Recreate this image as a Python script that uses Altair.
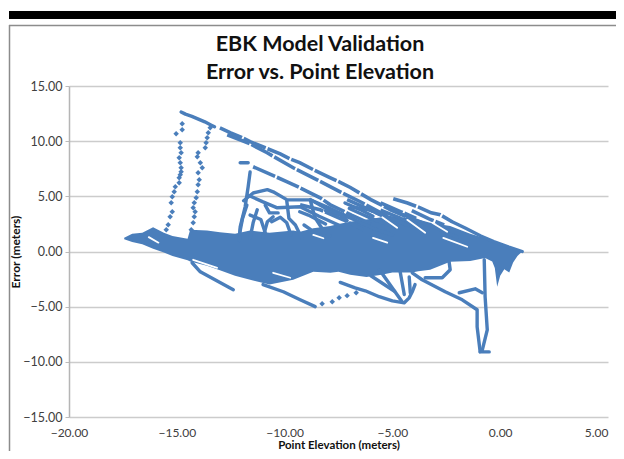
import altair as alt
import pandas as pd

BLUE = "#4a7ebb"

# dense body of the cloud, read as lower and upper edges
mass_x = [-17.44, -17.07, -16.6, -16.1, -15.6, -15.2, -14.5, -14.38, -13.6, -13.0, -12.3, -11.6, -10.7, -9.6, -9.28, -8.67, -7.88, -7.5, -6.96, -6.2, -5.5, -5.0, -4.5, -4.08, -3.8, -3.25, -2.32, -1.39, -0.7, -0.37, -0.25, -0.14, 0.0, 0.19, 0.42, 0.6, 0.8, 1.02]
mass_lo = [1.1, 0.85, 0.65, 0.25, -0.1, -0.4, -0.8, -0.9, -1.3, -1.7, -2.2, -2.56, -3.0, -2.56, -2.3, -1.84, -1.93, -1.84, -2.1, -2.3, -2.1, -1.9, -1.9, -1.9, -1.8, -1.66, -0.93, -0.85, -0.6, -0.9, -1.5, -3.2, -2.2, -1.6, -1.9, -1.0, -0.4, 0.0]
mass_hi = [1.25, 1.6, 1.7, 2.2, 1.7, 1.4, 1.15, 1.97, 1.9, 1.75, 1.6, 1.9, 1.7, 1.9, 1.8, 2.1, 2.3, 2.5, 2.7, 2.9, 3.1, 3.2, 3.1, 3.0, 2.9, 2.6, 2.3, 1.6, 1.2, 1.0, 0.9, 0.8, 0.7, 0.55, 0.4, 0.3, 0.2, 0.0]

# tracks that show as long broken rows
t2_x = [-13.0, -12.5, -12.0, -11.6, -10.9, -10.2, -9.75, -9.3, -8.6, -7.9, -7.4, -6.95, -6.0, -5.1, -4.3]
t2_y = [11.2, 10.75, 10.35, 9.95, 9.4, 8.85, 8.4, 8.05, 7.35, 6.7, 6.25, 5.8, 4.7, 3.8, 3.1]
t3_x = [-12.66, -11.6, -10.81, -9.6, -8.49, -7.42, -6.49, -5.1, -4.2]
t3_y = [10.58, 9.76, 8.95, 7.59, 6.5, 5.41, 4.51, 3.05, 2.3]
t4_x = [-11.46, -9.88, -9.28, -8.35, -7.88, -6.9, -6.0]
t4_y = [7.68, 6.32, 5.77, 4.87, 4.23, 3.3, 2.5]
t5_x = [-4.96, -4.3, -3.71, -3.2, -2.78, -2.23]
t5_y = [4.78, 4.4, 3.96, 3.5, 3.33, 2.7]
u1_x = [-5.55, -4.6, -3.9]
u1_y = [4.4, 3.6, 3.0]
u2_x = [-5.55, -4.6]
u2_y = [3.75, 3.0]
u3_x = [-4.1, -3.3, -2.6]
u3_y = [3.7, 2.95, 2.4]
m2_x = [-6.96, -6.03, -5.1]
m2_y = [4.05, 3.78, 2.88]
m3_x = [-9.28, -8.35, -7.28, -6.35]
m3_y = [4.23, 3.78, 2.88, 1.97]
m4_x = [-7.1, -6.35, -5.6]
m4_y = [4.7, 4.05, 3.4]
broken = {"t2": (t2_x, t2_y), "t3": (t3_x, t3_y), "t4": (t4_x, t4_y), "t5": (t5_x, t5_y),
          "u1": (u1_x, u1_y), "u2": (u2_x, u2_y), "u3": (u3_x, u3_y), "m2": (m2_x, m2_y),
          "m3": (m3_x, m3_y), "m4": (m4_x, m4_y)}

# tracks that show as solid strokes
t1_x = [-14.8, -14.6, -14.3, -14.0, -13.7, -13.4, -13.25]
t1_y = [12.65, 12.45, 12.25, 12.0, 11.75, 11.45, 11.3]
t6_x = [-5.1, -4.4, -3.6, -2.8, -2.0]
t6_y = [3.8, 3.25, 2.6, 2.0, 1.3]
t7_x = [-2.23, -1.6, -0.9, -0.3, 0.4, 1.02]
t7_y = [2.7, 2.1, 1.4, 0.9, 0.4, 0.0]
short_x = [-12.06, -11.69]
short_y = [8.04, 8.04]
col_x = [-11.6, -11.69, -11.83, -12.06, -12.1]
col_y = [7.2, 5.87, 4.05, 2.24, 1.0]
b1_x = [-11.9, -11.46, -10.8, -10.53, -9.88, -8.81, -8.0, -7.0]
b1_y = [4.6, 5.3, 5.6, 5.41, 4.68, 4.68, 4.0, 3.1]
b2_x = [-11.69, -11.0, -10.34, -9.28, -8.4, -7.5]
b2_y = [5.1, 4.5, 3.96, 4.05, 3.2, 2.4]
b3_x = [-11.27, -11.46, -11.6]
b3_y = [3.78, 2.6, 1.2]
b4_x = [-10.53, -10.8, -11.0]
b4_y = [3.15, 2.7, 1.3]
b5_x = [-9.9, -9.8, -9.5, -9.2]
b5_y = [4.6, 3.0, 2.4, 1.2]
b6_x = [-8.8, -8.6, -8.3, -7.9]
b6_y = [4.6, 3.1, 2.2, 1.4]
d1_x = [-8.8, -7.9, -6.9, -5.9, -5.0]
d1_y = [4.7, 3.7, 3.0, 2.1, 1.5]
d2_x = [-7.0, -6.1, -5.2]
d2_y = [3.9, 3.1, 2.4]
d3_x = [-6.4, -5.3, -4.4]
d3_y = [4.0, 3.2, 2.5]
k1_x = [-12.1, -11.95, -11.75]
k1_y = [1.5, 3.0, 4.2]
k2_x = [-11.6, -11.1, -10.9]
k2_y = [3.3, 2.9, 1.7]
k3_x = [-10.6, -10.2, -9.9, -9.7]
k3_y = [2.7, 3.1, 2.6, 1.5]
k4_x = [-9.3, -8.9, -8.5, -8.1]
k4_y = [3.6, 3.3, 2.9, 2.5]
k5_x = [-9.1, -8.8]
k5_y = [2.4, 2.0]
k6_x = [-8.1, -7.4, -7.1]
k6_y = [3.7, 3.3, 2.8]
k7_x = [-10.9, -10.7, -10.3]
k7_y = [4.2, 3.5, 3.5]
k9_x = [-7.2, -6.5, -5.9]
k9_y = [4.4, 3.8, 3.2]
spur1_x = [-14.29, -13.91, -12.38]
spur1_y = [-1.02, -1.84, -3.47]
spur2_x = [-11.0, -10.06, -9.28, -8.58]
spur2_y = [-3.0, -3.65, -4.38, -5.0]
e_x = [-4.08, -3.62, -2.55, -1.76, -1.07, -1.07, -0.93]
e_y = [-1.93, -2.56, -3.65, -4.38, -5.28, -6.83, -9.08]
c2_x = [-0.93, -0.7, -0.51]
c2_y = [-9.1, -9.1, -9.1]
c3_x = [-0.84, -0.6, -0.7, -0.74]
c3_y = [-9.0, -7.1, -4.1, -0.75]
g_x = [-3.48, -2.69, -2.32, -2.37]
g_y = [-2.38, -2.38, -1.66, -0.93]
f_x = [-1.9, -1.16, -0.83]
f_y = [-3.74, -3.38, -3.74]
p1_x = [-5.6, -4.55]
p1_y = [-1.66, -4.56]
p2_x = [-4.64, -4.45]
p2_y = [-1.84, -3.9]
p3_x = [-4.22, -4.17]
p3_y = [-2.3, -3.74]
p4_x = [-6.0, -4.9]
p4_y = [-2.2, -3.6]
p5_x = [-7.42, -6.73, -6.26, -5.61, -5.0, -4.45, -4.22, -4.08, -3.95]
p5_y = [-2.8, -3.3, -3.56, -4.1, -4.47, -4.65, -4.2, -3.65, -3.0]
tracks = {"t1": (t1_x, t1_y), "t6": (t6_x, t6_y), "t7": (t7_x, t7_y), "short": (short_x, short_y),
          "col": (col_x, col_y), "b1": (b1_x, b1_y), "b2": (b2_x, b2_y), "b3": (b3_x, b3_y),
          "b4": (b4_x, b4_y), "b5": (b5_x, b5_y), "b6": (b6_x, b6_y), "d1": (d1_x, d1_y),
          "d2": (d2_x, d2_y), "d3": (d3_x, d3_y), "k1": (k1_x, k1_y), "k2": (k2_x, k2_y),
          "k3": (k3_x, k3_y), "k4": (k4_x, k4_y), "k5": (k5_x, k5_y), "k6": (k6_x, k6_y),
          "k7": (k7_x, k7_y), "k9": (k9_x, k9_y), "spur1": (spur1_x, spur1_y),
          "spur2": (spur2_x, spur2_y), "e": (e_x, e_y), "c2": (c2_x, c2_y), "c3": (c3_x, c3_y),
          "g": (g_x, g_y), "f": (f_x, f_y), "p1": (p1_x, p1_y), "p2": (p2_x, p2_y),
          "p3": (p3_x, p3_y), "p4": (p4_x, p4_y), "p5": (p5_x, p5_y)}

# separate dots
col_a_x = [-14.75, -14.75, -15.03, -14.84, -14.84, -14.8, -14.89, -14.84, -14.8, -14.8, -14.84, -14.89, -14.89, -15.07, -15.12, -15.21, -15.26, -15.21, -15.31, -15.4, -15.49]
col_a_y = [11.58, 11.03, 10.67, 9.86, 9.4, 8.95, 8.5, 8.04, 7.59, 7.23, 6.95, 6.68, 6.23, 5.87, 5.41, 4.96, 4.42, 3.6, 3.15, 2.42, 1.97]
col_b_x = [-13.45, -13.54, -13.59, -13.64, -13.68, -14.01, -14.05, -13.91, -13.82, -14.01, -13.96, -14.01, -14.05, -14.1, -14.19, -14.24, -14.15, -14.19, -14.24, -14.33]
col_b_y = [11.21, 10.76, 10.31, 9.86, 9.4, 8.95, 8.59, 8.04, 7.59, 7.14, 6.5, 6.05, 5.41, 4.87, 4.42, 3.96, 3.6, 3.15, 2.6, 1.97]
rise_x = [-8.26, -7.79, -7.47, -7.1, -6.68]
rise_y = [-4.74, -4.56, -4.2, -4.0, -3.74]
dots_all_x = col_a_x + col_b_x + rise_x
dots_all_y = col_a_y + col_b_y + rise_y

# white pockets and slits inside the cloud
gap1_x = [-16.3, -15.85]
gap1_y = [1.3, 0.8]
gap2_x = [-14.24, -13.13]
gap2_y = [-0.75, -1.48]
gap3_x = [-10.53, -9.74]
gap3_y = [-1.93, -2.38]
gap4_x = [-4.31, -3.48]
gap4_y = [2.87, 1.7]
gap5_x = [-3.15, -2.46]
gap5_y = [2.6, 1.79]
gap6_x = [-2.64, -1.53]
gap6_y = [1.24, 0.43]
gap7_x = [-5.47, -4.78]
gap7_y = [3.1, 2.15]
gap8_x = [-5.9, -5.24]
gap8_y = [1.24, 0.8]
gap9_x = [-8.67, -8.2]
gap9_y = [1.5, 1.2]
gaps = {"g1": (gap1_x, gap1_y), "g2": (gap2_x, gap2_y), "g3": (gap3_x, gap3_y),
        "g4": (gap4_x, gap4_y), "g5": (gap5_x, gap5_y), "g6": (gap6_x, gap6_y),
        "g7": (gap7_x, gap7_y), "g8": (gap8_x, gap8_y), "g9": (gap9_x, gap9_y)}

title_lines = ["EBK Model Validation", "Error vs. Point Elevation"]
x_ticks = [-20, -15, -10, -5, 0, 5]
y_ticks = [-15, -10, -5, 0, 5, 10, 15]


def table(d):
    rows = []
    for k, (xs, ys) in d.items():
        for i, (a, b) in enumerate(zip(xs, ys)):
            rows.append({"k": k, "i": i, "x": a, "y": b})
    return pd.DataFrame(rows)


xs = alt.Scale(domain=[-20, 5], nice=False, zero=False)
ys = alt.Scale(domain=[-15, 15], nice=False, zero=False)
font = "Lato"
X = alt.X("x:Q", scale=xs, axis=alt.Axis(values=x_ticks, format=".2f", grid=False, ticks=False,
          domain=False, labelFont=font, labelFontSize=12, labelColor="#404040", labelPadding=10,
          labelAlign=alt.ExprRef(expr="datum.value == 5 ? 'right' : 'center'"),
          title="Point Elevation (meters)", titleFont=font, titleFontSize=11.5, titleFontWeight="bold",
          titleColor="#111111", titlePadding=1, labelFlush=False))
Y = alt.Y("y:Q", scale=ys, axis=alt.Axis(values=y_ticks, format=".2f", grid=True, gridColor="#cccccc",
          gridWidth=1.5, tickColor="#bbbbbb", tickSize=4, domainColor="#b5b5b5", domainWidth=1.5,
          labelFont=font, labelFontSize=12.5, labelColor="#404040", labelPadding=3,
          title="Error (meters)", titleFont=font, titleFontSize=12, titleFontWeight="bold",
          titleColor="#111111", titlePadding=0))
px = alt.X("x:Q", scale=xs)
py = alt.Y("y:Q", scale=ys)

area = alt.Chart(pd.DataFrame({"x": mass_x, "y": mass_lo, "y2": mass_hi})).mark_area(
    color=BLUE, interpolate="linear").encode(x=X, y=Y, y2="y2:Q")
lines = alt.Chart(table(tracks)).mark_line(color=BLUE, strokeWidth=3.4, strokeCap="round", strokeJoin="round").encode(
    x=px, y=py, detail="k:N", order="i:Q")
rows = alt.Chart(table(broken)).mark_line(color=BLUE, strokeWidth=3.6, strokeDash=[24, 2]).encode(
    x=px, y=py, detail="k:N", order="i:Q")
white = alt.Chart(table(gaps)).mark_line(color="white", strokeWidth=1.8, strokeCap="round").encode(
    x=px, y=py, detail="k:N", order="i:Q")
dots = alt.Chart(pd.DataFrame({"x": dots_all_x, "y": dots_all_y})).mark_point(
    shape="diamond", filled=True, color=BLUE, opacity=1, size=30).encode(x=px, y=py)

one = pd.DataFrame({"a": [0]})
bar = alt.Chart(one).mark_rect(color="black").encode(
    x=alt.value(-60), x2=alt.value(560), y=alt.value(-75), y2=alt.value(-67))
top_rule = alt.Chart(one).mark_rule(color="#8c8c8c", strokeWidth=1.5).encode(
    x=alt.value(-60), x2=alt.value(560), y=alt.value(-60.5))
left_rule = alt.Chart(one).mark_rule(color="#8c8c8c", strokeWidth=1.5).encode(
    x=alt.value(-59.5), y=alt.value(-61), y2=alt.value(380))
t1 = alt.Chart(one).mark_text(text=title_lines[0], font=font, fontWeight="bold", fontSize=21.5, color="#111111").encode(
    x=alt.value(251), y=alt.value(-41))
t2 = alt.Chart(one).mark_text(text=title_lines[1], font=font, fontWeight="bold", fontSize=21.5, color="#111111").encode(
    x=alt.value(251), y=alt.value(-13))

chart = alt.layer(area, lines, rows, white, dots, bar, top_rule, left_rule, t1, t2).properties(
    width=539, height=331, padding={"left": 61, "top": 78, "right": 8, "bottom": 34},
    autosize=alt.AutoSizeParams(type="none"),
).configure_view(stroke=None)

chart.save("out.html", embed_options={"renderer": "svg", "actions": False})
